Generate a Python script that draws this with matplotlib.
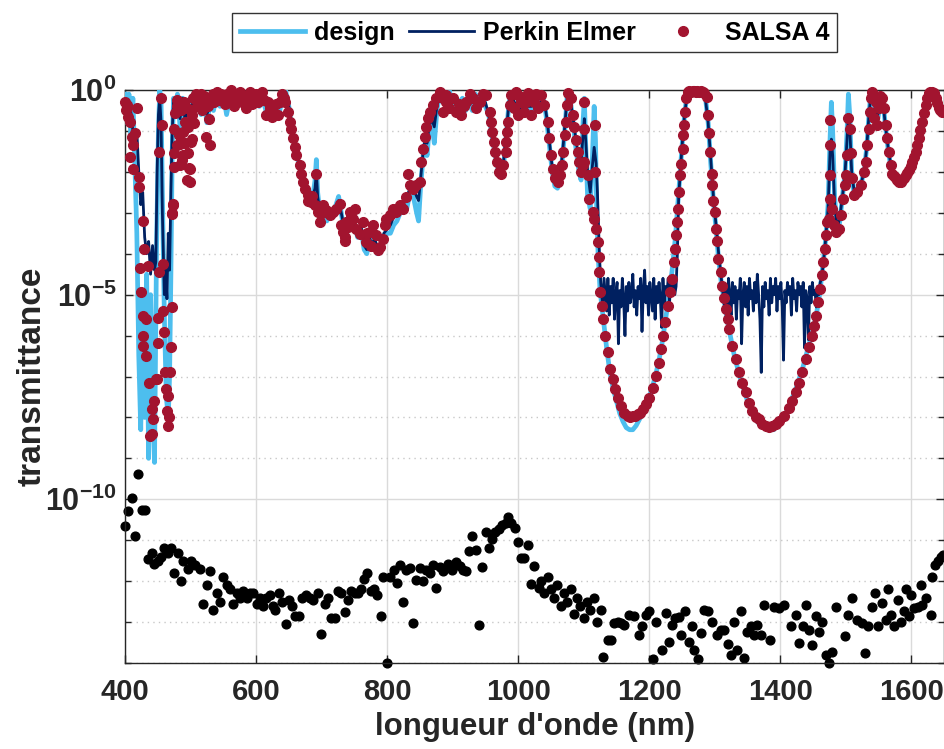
import numpy as np
import matplotlib
matplotlib.use("Agg")
import matplotlib.pyplot as plt

plt.rcParams['font.family'] = ['Liberation Sans', 'DejaVu Sans']
plt.rcParams['font.weight'] = 'bold'
plt.rcParams['mathtext.fontset'] = 'custom'
plt.rcParams['mathtext.rm'] = 'Liberation Sans:bold'
plt.rcParams['mathtext.bf'] = 'Liberation Sans:bold'
plt.rcParams['mathtext.default'] = 'bf'

# ---------------- data (log10 of transmittance) ----------------
design_wl = [400, 403, 406, 409, 412, 415, 418, 421, 424, 427, 430, 433, 436, 439, 442, 445, 448, 451, 453, 455,
             457, 460, 463, 466, 468, 470, 472, 474, 477, 480, 484, 488, 492, 496, 500, 504, 508, 512, 516, 520,
             525, 530, 535, 540, 545, 550, 555, 560, 565, 570, 575, 580, 585, 590, 595, 600, 605, 610, 615, 620,
             625, 630, 635, 640, 645, 650, 655, 660, 665, 670, 675, 680, 685, 690, 692, 694, 698, 703, 708, 713,
             718, 722, 726, 730, 735, 740, 745, 750, 755, 760, 765, 769, 773, 777, 781, 785, 790, 795, 800, 805,
             810, 815, 820, 825, 830, 835, 840, 845, 848, 851, 855, 858, 861, 864, 868, 872, 876, 880, 885, 890,
             895, 900, 905, 910, 915, 920, 925, 930, 935, 940, 945, 950, 955, 960, 965, 970, 974, 978, 982, 986,
             990, 995, 1000, 1005, 1010, 1015, 1020, 1025, 1030, 1035, 1040, 1044, 1048, 1052, 1056, 1060, 1064,
             1068, 1072, 1075, 1080, 1084, 1088, 1092, 1096, 1099, 1101, 1103, 1106, 1110, 1113, 1116, 1118, 1120,
             1122, 1125, 1130, 1135, 1140, 1145, 1150, 1155, 1160, 1165, 1170, 1175, 1180, 1185, 1190, 1195, 1200,
             1205, 1210, 1215, 1220, 1225, 1230, 1235, 1240, 1245, 1250, 1254, 1258, 1265, 1275, 1285, 1290, 1294,
             1298, 1302, 1306, 1310, 1315, 1320, 1325, 1330, 1335, 1340, 1345, 1350, 1355, 1360, 1365, 1370, 1375,
             1380, 1385, 1390, 1395, 1400, 1405, 1410, 1415, 1420, 1425, 1430, 1435, 1440, 1445, 1450, 1455, 1460,
             1465, 1469, 1473, 1476, 1478, 1480, 1483, 1487, 1491, 1495, 1499, 1502, 1504, 1506, 1509, 1513, 1518,
             1523, 1528, 1532, 1535, 1538, 1541, 1545, 1549, 1553, 1556, 1560, 1565, 1570, 1576, 1581, 1586, 1591,
             1596, 1601, 1606, 1611, 1616, 1621, 1626, 1632, 1637, 1642, 1650]
design_lg = [-0.1, -0.8, -0.1, -1.2, -0.2, -1.8, -3.5, -6.5, -8.3, -5.0, -8.0, -4.5, -9.0, -5.0, -7.5, -9.1, -4.0, -1.0, 0.0, -0.3,
             -2.5, -5.5, -7.5, -8.0, -7.0, -4.5, -1.5, -0.2, -0.6, -0.1, -0.9, -0.2, -1.0, -0.3, -0.9, -0.1, -0.5, -0.1, -0.6, -0.2,
             -0.8, -0.3, -0.5, -0.1, -0.4, -0.1, -0.6, -0.2, -0.4, -0.05, -0.3, -0.1, -0.5, -0.1, -0.3, -0.05, -0.4, -0.2, -0.5, -0.3,
             -0.6, -0.3, -0.6, -0.2, 0.0, -0.4, -1.0, -1.4, -1.8, -2.0, -2.4, -2.6, -2.8, -2.2, -1.7, -2.5, -3.1, -2.9, -3.2, -3.0,
             -3.1, -2.8, -2.6, -3.0, -3.5, -3.2, -3.0, -3.3, -3.6, -3.4, -3.9, -4.0, -3.6, -3.9, -3.7, -4.0, -3.95, -3.6, -3.5, -3.5,
             -3.3, -3.2, -3.0, -2.8, -2.9, -2.5, -2.6, -3.0, -3.2, -2.4, -1.6, -1.3, -1.6, -1.0, -0.8, -1.3, -0.5, -0.1, -0.3, -0.1,
             0.0, -0.4, -0.5, -0.3, -0.2, -0.5, -0.3, -0.5, -0.1, -0.3, -0.1, -0.4, -0.6, -1.1, -1.6, -2.0, -2.1, -1.8, -1.1, -0.3,
             -0.1, -0.5, -0.7, -0.3, -0.6, -0.1, -0.6, -0.2, -0.5, -0.1, -0.3, -0.8, -1.4, -2.0, -2.35, -2.4, -2.2,
             -1.6, -0.8, -0.1, -0.3, -0.8, -1.4, -1.9, -2.2, -0.8, -0.2, -1.3, -2.6, -2.9, -1.8, -0.4, -1.2, -3.0,
             -4.0, -4.9, -5.6, -6.3, -6.9, -7.3, -7.6, -7.9, -8.1, -8.25, -8.3, -8.3, -8.2, -8.05, -7.9, -7.7, -7.5,
             -7.25, -6.95, -6.6, -6.15, -5.6, -5.05, -4.4, -3.6, -2.5, -1.4, -0.6, -0.05, 0.0, 0.0, -0.05, -0.8, -1.8,
             -2.7, -3.4, -4.15, -4.7, -5.2, -5.7, -6.1, -6.5, -6.8, -7.1, -7.35, -7.6, -7.8, -8.0, -8.1, -8.2, -8.25,
             -8.3, -8.3, -8.3, -8.2, -8.1, -8.0, -7.85, -7.65, -7.45, -7.25, -7.0, -6.75, -6.45, -6.15, -5.85, -5.5, -5.0,
             -4.3, -3.7, -2.8, -1.2, -0.3, -1.0, -2.6, -3.55, -3.2, -2.6, -2.0, -1.0, -0.1, -0.6, -2.0, -2.6, -2.5,
             -2.3, -2.0, -1.4, -0.7, -0.1, 0.0, -0.5, -0.7, -0.3, -0.1, -0.8, -1.5, -2.0, -2.15, -2.25, -2.2, -2.1,
             -1.95, -1.75, -1.5, -1.2, -0.8, -0.4, -0.1, -0.05, -0.2, -0.45, -0.5]

pe_wl = [400, 404, 408, 412, 415, 418, 421, 424, 427, 430, 433, 436, 439, 442, 445, 447, 449, 451, 453, 455,
         457, 460, 462, 464, 466, 468, 470, 472, 474, 477, 480, 484, 488, 492, 496, 500, 505, 510, 515, 520,
         525, 530, 540, 550, 560, 570, 580, 590, 600, 610, 620, 630, 640, 645, 650, 655, 660, 665, 670, 675,
         680, 685, 690, 692, 694, 698, 703, 708, 713, 718, 722, 726, 730, 735, 740, 745, 750, 755, 760, 765,
         769, 773, 777, 781, 785, 790, 795, 800, 805, 810, 815, 820, 825, 830, 835, 840, 845, 848, 851, 855,
         858, 861, 864, 868, 872, 876, 880, 890, 900, 910, 920, 930, 940, 950, 955, 960, 965, 970, 974, 978,
         982, 986, 990, 1000, 1010, 1020, 1030, 1040, 1044, 1048, 1052, 1056, 1060, 1064, 1068, 1072, 1075, 1080,
         1084, 1088, 1092, 1096, 1099, 1101, 1103, 1106, 1110, 1113, 1116, 1119, 1121, 1124, 1126,
         1127, 1129, 1131, 1133, 1135, 1137, 1139, 1141, 1143, 1145, 1147, 1149, 1151, 1153, 1155, 1157, 1159,
         1161, 1163, 1165, 1167, 1169, 1171, 1173, 1175, 1177, 1179, 1181, 1183, 1185, 1187, 1189, 1191, 1193,
         1195, 1197, 1199, 1201, 1203, 1205, 1207, 1209, 1211, 1213, 1215, 1217, 1219, 1221, 1223, 1225, 1227,
         1229, 1231, 1233, 1235, 1237, 1239, 1241, 1243, 1245, 1250, 1254, 1258, 1270, 1285, 1290, 1294, 1298,
         1302, 1306, 1310, 1313,
         1315, 1317, 1319, 1321, 1323, 1325, 1327, 1329, 1331, 1333, 1335, 1337, 1339, 1341, 1343, 1345, 1347,
         1349, 1351, 1353, 1355, 1357, 1359, 1361, 1363, 1365, 1367, 1369, 1371, 1373, 1375, 1377, 1379, 1381,
         1383, 1385, 1387, 1389, 1391, 1393, 1395, 1397, 1399, 1401, 1403, 1405, 1407, 1409, 1411, 1413, 1415,
         1417, 1419, 1421, 1423, 1425, 1427, 1429, 1431, 1433, 1435, 1437, 1439, 1441, 1443, 1445, 1447, 1449,
         1451, 1453, 1455, 1457, 1459, 1461, 1463, 1466, 1469, 1473, 1476, 1478, 1480, 1483, 1487, 1491, 1495,
         1499, 1502, 1504, 1506, 1509, 1513, 1518, 1523, 1528, 1532, 1535, 1538, 1541, 1545, 1549, 1553, 1556,
         1560, 1565, 1570, 1576, 1581, 1586, 1591, 1596, 1601, 1606, 1611, 1616, 1621, 1626, 1632, 1637, 1642, 1650]
pe_lg = [-0.3, -0.6, -0.4, -1.0, -1.2, -1.0, -2.0, -2.8, -2.5, -3.6, -4.0, -3.7, -4.5, -3.8, -4.4, -4.2, -2.0, -0.6, -0.2, -0.8,
         -3.0, -5.0, -4.4, -5.1, -3.5, -4.4, -2.5, -1.0, -0.3, -0.6, -0.2, -0.7, -0.2, -0.8, -0.3, -0.7, -0.1, -0.4, -0.2, -0.5,
         -0.6, -0.3, -0.15, -0.2, -0.3, -0.1, -0.2, -0.15, -0.1, -0.2, -0.4, -0.4, -0.2, -0.05, -0.4, -0.9, -1.3, -1.7, -2.0, -2.3,
         -2.5, -2.7, -2.4, -2.0, -2.6, -3.0, -2.9, -3.1, -3.0, -3.0, -2.85, -2.7, -3.0, -3.4, -3.1, -3.0, -3.2, -3.5, -3.3, -3.8,
         -3.9, -3.6, -3.8, -3.6, -3.9, -3.8, -3.5, -3.4, -3.3, -3.1, -3.0, -2.85, -2.7, -2.6, -2.4, -2.4, -2.6, -2.7, -2.2, -1.5,
         -1.2, -1.3, -0.9, -0.7, -0.9, -0.4, -0.1, -0.2, -0.3, -0.3, -0.4, -0.3, -0.2, -0.3, -0.6, -1.0, -1.5, -1.9, -2.0, -1.7,
         -1.0, -0.3, -0.15, -0.5, -0.4, -0.4, -0.3, -0.3, -0.7, -1.3, -1.9, -2.2, -2.3, -2.1, -1.5, -0.7, -0.15, -0.3,
         -0.7, -1.2, -1.6, -1.8, -1.1, -0.7, -1.2, -2.0, -2.5, -1.9, -1.4, -1.8, -2.5, -4.0, -4.7,
         -4.9, -5.3, -4.6, -5.0, -5.4, -4.6, -5.5, -4.8, -5.2, -4.6, -5.6, -5.0, -4.7, -6.2, -4.9, -5.3, -4.6,
         -5.1, -6.0, -4.8, -5.4, -4.7, -5.2, -5.0, -4.5, -5.3, -4.9, -5.5, -4.8, -5.1, -4.6, -5.9, -4.9, -4.4,
         -5.2, -4.8, -5.5, -4.7, -5.0, -5.4, -4.6, -5.6, -4.8, -5.2, -4.7, -5.1, -5.8, -4.6, -5.3, -4.8, -5.0,
         -4.6, -5.2, -4.7, -4.9, -4.6, -5.0, -4.8, -4.0, -2.6, -1.4, -0.6, -0.1, 0.0, -0.1, -0.8, -1.7, -2.6,
         -3.3, -4.0, -4.6, -5.0,
         -5.3, -4.8, -5.4, -4.6, -5.0, -5.5, -4.7, -5.2, -4.8, -5.6, -4.9, -5.1, -4.6, -6.2, -5.0, -4.7, -5.3,
         -4.8, -5.5, -4.6, -5.1, -4.9, -5.4, -4.7, -5.2, -4.5, -5.0, -5.6, -6.9, -4.8, -5.3, -4.7, -5.1, -4.9,
         -5.5, -4.6, -5.2, -4.8, -5.0, -4.6, -5.4, -4.8, -5.1, -4.7, -5.3, -6.6, -4.9, -5.2, -4.7, -5.0, -4.8,
         -5.5, -4.6, -5.1, -4.9, -5.4, -4.7, -5.0, -4.8, -5.3, -4.7, -6.3, -4.9, -5.1, -6.1, -4.8, -5.2, -4.7,
         -5.0, -4.9, -5.3, -4.8, -5.0, -4.7, -4.6, -4.2, -3.7, -2.9, -1.5, -1.2, -1.6, -2.8, -3.4, -3.1, -2.6,
         -2.0, -1.2, -0.6, -0.9, -2.0, -2.5, -2.45, -2.3, -2.0, -1.4, -0.7, -0.15, -0.05, -0.45, -0.6, -0.3, -0.15,
         -0.8, -1.45, -1.95, -2.1, -2.2, -2.15, -2.05, -1.9, -1.7, -1.45, -1.15, -0.75, -0.4, -0.1, -0.05, -0.2, -0.45, -0.5]

# SALSA 4 measurement points (wavelength, log10 T), by region
salsa_wl_1 = [400.5, 401.0, 402.6, 405.1, 407.6, 410.2, 412.7, 415.3, 407.6, 411.7, 417.8, 421.9, 421.9, 428.0, 429.5,
              422.9, 424.4, 427.0, 432.0, 427.0, 427.0, 432.0, 435.6, 437.1, 438.1, 440.7, 443.2, 441.7, 444.7, 447.3,
              448.3, 450.8, 450.8, 452.4, 452.4, 455.9, 454.4, 457.4, 458.4, 459.5, 461.0, 462.5, 466.1, 464.5, 467.6,
              466.1, 468.6, 469.6, 471.1, 471.1, 472.7, 474.7, 474.7, 474.7, 478.8, 476.2, 479.8, 473.0, 472.0]
salsa_lg_1 = [-0.3, -0.5, -0.37, -0.65, -0.78, -1.14, -1.35, -1.06, -1.63, -1.92, -0.45, -2.12, -2.37, -3.19, -3.88,
              -4.35, -4.94, -5.51, -5.6, -6.0, -6.25, -6.5, -4.29, -7.15, -8.46, -8.41, -8.05, -7.8, -7.6, -7.07,
              -7.07, -6.17, -5.56, -4.45, -1.51, -0.86, -0.2, -4.25, -5.39, -5.92, -6.9, -7.31, -7.48, -7.84, -8.0,
              -8.21, -6.9, -6.29, -5.31, -3.02, -2.78, -1.88, -1.55, -0.94, -0.25, -0.57, -1.35, -2.8, -3.0]

salsa_wl_2 = [480, 482, 483.8, 483.8, 485, 487, 487.9, 488.9, 490, 491.5, 492, 494, 494, 496, 496.5, 498, 499.1, 499.1,
              500, 500.6, 501.6, 502, 504, 506, 508, 510, 512, 514, 516, 518, 520, 522, 524, 526, 528, 530, 532, 534,
              536, 538, 540, 543, 546, 549, 552, 555, 558, 561, 564, 567, 570, 573, 576, 579, 582, 585, 588, 591, 594,
              597, 600, 603, 606, 609, 612, 615, 618, 621, 624, 627, 630, 633, 636, 639, 642]
salsa_lg_2 = [-0.4, -1.1, -1.31, -1.84, -0.5, -1.7, -1.02, -1.59, -0.3, -0.78, -1.3, -0.45, -2.2, -0.9, -1.55, -1.9, -1.92, -2.25,
              -0.5, -1.27, -0.61, -1.2, -0.2, -0.8, -0.1, -0.4, -0.2, -0.3, -0.1, -0.5, -0.15, -0.3, -1.15, -0.4, -0.7, -1.35, -0.3, -0.1,
              -0.3, -0.2, -0.05, -0.25, -0.1, -0.2, -0.35, -0.1, -0.3, 0.0, -0.2, -0.4, -0.1, -0.25, -0.05, -0.3, -0.15, -0.45, -0.2, -0.05, -0.35,
              -0.2, -0.1, -0.3, -0.15, -0.05, -0.25, -0.6, -0.3, -0.45, -0.65, -0.55, -0.35, -0.6, -0.3, -0.1, -0.2]

salsa_wl_3 = [643.9, 648.9, 651.5, 654.0, 656.6, 659.1, 661.6, 666.7, 669.3, 671.8, 674.3, 679.4, 684.5, 692.1, 689.6, 694.7,
              697.2, 702.3, 707.4, 712.4, 717.5, 722.6, 727.7, 732.8, 735.3, 737.8, 742.9, 748.0, 750.5, 753.1, 758.2,
              763.2, 768.3, 773.4, 775.9, 778.5, 783.6, 788.6, 793.7, 796.3, 798.8, 803.9, 809.0, 814.0, 819.1, 824.2,
              829.3, 831.8, 834.4, 839.4, 844.5, 849.6, 852.1, 854.7, 857.2, 859.8, 862.3, 864.8, 869.9, 875.0, 880.1,
              885.2, 890.2, 730.0, 735.0, 740.0, 786.0, 770.0, 745.0, 700.0, 680.0, 686.0]
salsa_lg_3 = [-0.29, -0.53, -0.78, -0.94, -1.18, -1.39, -1.59, -1.84, -2.04, -2.25, -2.41, -2.57, -2.74, -2.04, -2.82, -2.98,
              -3.23, -2.82, -2.94, -3.06, -2.98, -2.9, -2.78, -3.47, -3.68, -3.23, -2.98, -3.15, -2.9, -3.39, -3.51,
              -3.23, -3.72, -3.47, -3.8, -3.31, -3.55, -3.84, -3.64, -3.31, -3.15, -3.06, -2.9, -2.98, -2.82, -2.9,
              -2.61, -2.04, -2.33, -2.41, -2.33, -2.25, -1.76, -1.43, -1.14, -0.9, -0.69, -0.53, -0.37, -0.2, -0.04,
              -0.2, -0.12, -3.3, -3.6, -3.35, -3.9, -3.5, -3.1, -3.0, -2.7, -2.6]

salsa_wl_4 = [885.0, 890.0, 895.0, 900.0, 905.5, 910.0, 913.0, 917.0, 920.7, 926.0, 931.0, 936.0, 941.0, 946.0, 951.2, 956.3,
              958.8, 960.4, 962.4, 965.4, 967.5, 970.5, 974.1, 977.6, 980.7, 981.7, 982.7, 984.2, 986.8, 989.3, 994.4,
              999.5, 1004.6, 1009.6, 1014.7, 1019.8, 1024.9, 1030.0, 1035.0, 1040.1, 1045.2, 1047.7, 1050.3, 1052.8,
              1056.9, 1060.4, 1064.0, 1067.1, 1069.1, 1071.1, 1073.1, 1074.1, 1075.7, 1080.8, 1083.3, 1085.8, 1088.4,
              1090.9, 1093.5, 1096.0, 1098.5, 1001.0, 1012.0, 1022.0, 997.0, 1027.0]
salsa_lg_4 = [-0.53, -0.3, -0.45, -0.2, -0.53, -0.35, -0.61, -0.4, -0.29, -0.1, -0.2, -0.45, -0.29, -0.1, -0.12, -0.53,
              -0.78, -1.02, -1.27, -1.51, -1.76, -2.0, -2.04, -1.84, -1.51, -1.27, -1.02, -0.78, -0.37, -0.12, -0.45,
              -0.61, -0.29, -0.53, -0.08, -0.61, -0.29, -0.45, -0.12, -0.37, -0.78, -1.18, -1.59, -1.92,
              -2.16, -2.25, -2.08, -1.84, -1.51, -1.1, -0.78, -0.37, -0.08, -0.2, -0.61, -0.9, -1.23,
              -1.51, -1.76, -2.0, -1.84, -0.15, -0.3, -0.2, -0.05, -0.1]

salsa_wl_5 = [1101.0, 1101.0, 1101.0, 1106.0, 1108.6, 1113.7, 1116.3, 1117.8, 1117.3, 1118.8, 1121.3, 1122.9, 1122.9,
              1124.9, 1128.0, 1130.0, 1133.0, 1136.6, 1140.1, 1144.2, 1148.3, 1151.8, 1156.9, 1162.0, 1167.1, 1171.0,
              1174.7, 1178.5, 1182.3, 1186.0, 1189.9, 1195.0, 1200.0, 1205.2, 1210.2, 1214.3, 1217.9, 1221.4, 1224.5,
              1228.0, 1231.6, 1234.6, 1237.2, 1239.2, 1240.7, 1242.2, 1244.3, 1245.8, 1247.3, 1248.3, 1250.9, 1251.9,
              1253.4, 1255.0, 1256.0, 1258.5, 1261.0, 1263.5, 1266.1, 1268.5, 1271.0, 1273.7, 1276.0, 1278.5, 1281.4,
              1284.0, 1287.5, 1289.0, 1290.5, 1292.5, 1295.1, 1296.6, 1298.1, 1300.2, 1301.7, 1303.2, 1305.7, 1309.3,
              1311.8, 1314.4, 1316.9, 1319.5, 1322.0, 1327.1, 1332.2, 1337.2, 1342.3, 1347.4, 1352.5, 1357.6, 1362.6]
salsa_lg_5 = [-0.29, -0.94, -1.76, -2.08, -2.66, -2.98, -3.15, -0.86, -2.0, -3.39, -3.72, -4.08, -4.45,
              -4.94, -5.27, -5.6, -6.0, -6.41, -6.82, -7.07, -7.31, -7.52, -7.72, -7.88, -7.97, -8.0,
              -7.97, -7.97, -7.92, -7.88, -7.8, -7.68, -7.52, -7.27, -6.99, -6.66, -6.33, -6.0, -5.68,
              -5.27, -4.94, -4.62, -4.21, -3.88, -3.55, -3.23, -2.9, -2.49, -2.08, -1.8, -1.43, -1.1,
              -0.86, -0.53, -0.2, -0.04, -0.02, -0.05, -0.02, -0.03, -0.05, -0.02, -0.04, -0.02, -0.05,
              -0.08, -0.16, -0.61, -1.06, -1.51, -2.04, -2.33, -2.7, -2.98, -3.39, -3.68, -4.13, -4.45,
              -4.78, -5.07, -5.35, -5.6, -5.84, -6.25, -6.58, -6.9, -7.15, -7.39, -7.64, -7.84, -8.0]

salsa_wl_6 = [1367.7, 1372.8, 1377.9, 1383.0, 1388.0, 1393.0, 1398.2, 1405.8, 1413.4, 1418.5, 1423.6, 1428.7, 1433.7,
              1438.8, 1443.9, 1448.0, 1451.5, 1455.1, 1458.1, 1460.7, 1463.2, 1465.2, 1467.8, 1470.3, 1471.8, 1474.4,
              1475.4, 1475.4, 1475.9, 1475.9, 1478.4, 1482.0, 1485.6, 1489.6, 1492.2, 1495.7, 1498.8, 1500.8, 1502.3,
              1503.8, 1505.9, 1507.4, 1508.9, 1512.5, 1517.6, 1522.6, 1527.7, 1530.3, 1532.8, 1535.3, 1536.4, 1537.9,
              1540.4, 1543.0, 1545.5, 1548.0, 1550.6, 1553.0, 1555.7, 1558.2, 1560.8, 1563.3, 1565.8, 1568.4, 1570.9,
              1573.5, 1576.0, 1578.5, 1581.1, 1583.6, 1586.1, 1588.7, 1591.2, 1593.8, 1596.3, 1598.9, 1601.4, 1604.0,
              1606.5, 1609.0, 1611.5, 1614.0, 1616.6, 1619.1, 1621.7, 1624.2, 1626.8, 1629.3, 1631.9, 1634.4, 1637.0,
              1639.5, 1642.0, 1644.5, 1647.1, 1649.5]
salsa_lg_6 = [-8.05, -8.15, -8.21, -8.24, -8.21, -8.15, -8.09, -7.97, -7.76, -7.6, -7.39, -7.15, -6.9,
              -6.58, -6.29, -6.0, -5.76, -5.51, -5.19, -4.86, -4.53, -4.21, -3.88, -3.55, -3.23, -3.15,
              -2.66, -2.08, -1.35, -0.74, -2.9, -3.31, -3.47, -3.39, -3.06, -2.66, -2.33, -2.08, -1.59,
              -0.69, -0.94, -1.55, -2.16, -2.57, -2.49, -2.33, -2.0, -1.76, -1.35, -0.94, -0.53, -0.2,
              -0.04, -0.69, -0.3, -0.86, -0.45, -0.15, -0.2, -0.45, -0.86, -1.18, -1.51, -1.84, -2.04,
              -2.1, -2.16, -2.2, -2.25, -2.25, -2.21, -2.15, -2.08, -2.02, -1.96, -1.86, -1.76, -1.64,
              -1.51, -1.35, -1.18, -0.98, -0.78, -0.57, -0.37, -0.2, -0.08, -0.05, -0.04, -0.08, -0.2,
              -0.32, -0.45, -0.5, -0.53, -0.5]

# black points (noise floor, no legend entry)
floor_wl = [400.0, 405.1, 410.2, 415.3, 420.3, 425.4, 430.5, 435.6, 440.7, 444.7, 449.8, 454.9, 460.0, 465.0, 470.1,
            475.2, 480.3, 485.4, 488.9, 495.5, 500.6, 506.7, 514.3, 519.4, 524.5, 529.6, 534.6, 539.7, 544.8, 549.9,
            555.0, 560.0, 565.1, 570.2, 575.3, 580.4, 585.4, 590.5, 595.6, 600.7, 605.8, 610.8, 615.9, 621.0, 626.1,
            629.6, 635.2, 640.3, 645.4, 650.5, 655.5, 659.1, 665.7, 670.8, 675.9, 682.0, 687.0, 694.7, 699.7, 704.8,
            709.9, 715.0, 720.1, 725.1, 730.2, 735.3, 740.4, 745.5, 750.5, 755.6, 760.7, 764.8, 769.8, 774.9, 780.0,
            785.1, 790.2, 794.2, 799.8, 803.9, 810.0, 815.0, 820.0, 824.2, 829.3, 834.4, 839.4, 844.5, 849.6, 854.7,
            859.8, 864.8, 869.9, 875.0, 880.1, 885.2, 892.8, 899.4, 904.5, 910.6, 915.6, 920.7, 924.8, 929.9, 935.0,
            940.0, 945.1, 950.2, 955.3, 960.3, 965.4, 970.5, 975.6, 980.7, 984.7, 989.8, 994.9, 999.5, 1004.5, 1009.6,
            1014.7, 1019.8, 1024.9, 1031.5, 1035, 1040, 1045, 1050, 1055, 1060, 1065, 1070, 1075, 1080, 1085, 1090,
            1095, 1100, 1105, 1110, 1115, 1120, 1126.4, 1129.0, 1136.6, 1141.7, 1146.8, 1151.8, 1156.9, 1162.0,
            1169.6, 1177.2, 1183.8, 1188.9, 1195.0, 1200.0, 1205.2, 1210.3, 1219.4, 1225.5, 1229.6, 1234.6, 1239.7,
            1245.8, 1248.4, 1255.0, 1260.0, 1265.1, 1268.7, 1273.8, 1278.8, 1283.9, 1289.0, 1296.6, 1304.2, 1309.3,
            1314.4, 1319.5, 1324.6, 1329.6, 1334.7, 1339.8, 1344.9, 1350.0, 1355.0, 1360.1, 1365.2, 1370.3, 1375.4,
            1384.0, 1390.6, 1398.2, 1405.8, 1416.0, 1423.6, 1428.7, 1434.8, 1438.9, 1444.0, 1449.0, 1454.1, 1459.2,
            1463.2, 1469.3, 1474.4, 1479.5, 1484.6, 1498.8, 1503.9, 1510, 1517.6, 1525.2, 1529.3, 1534.4, 1539.4,
            1545, 1549.6, 1555.7, 1561.8, 1565, 1568.4, 1573.5, 1580, 1583.6, 1588.7, 1592, 1596.3, 1600, 1603.9,
            1610.6, 1615, 1616.7, 1622, 1629.4, 1632, 1636, 1640, 1645, 1649]
floor_lg = [-10.66, -10.29, -9.97, -10.9, -9.38, -10.25, -10.25, -11.46, -11.3, -11.57, -11.5, -11.4, -11.2, -11.3, -11.2,
            -11.8, -11.3, -12.0, -11.5, -11.7, -11.5, -11.6, -11.7, -12.55, -12.1, -11.75, -12.7, -12.3, -12.5, -11.9,
            -12.1, -12.2, -12.55, -12.3, -12.4, -12.25, -12.4, -12.3, -12.3, -12.55, -12.4, -12.6, -12.4, -12.35, -12.6,
            -12.7, -12.3, -12.5, -13.05, -12.45, -12.6, -12.85, -12.85, -12.4, -12.35, -12.4, -12.45, -12.3, -13.3, -12.55,
            -12.4, -12.9, -12.9, -12.25, -12.3, -12.75, -12.45, -12.25, -12.3, -12.3, -12.2, -11.95, -11.8, -12.25, -12.2,
            -12.35, -12.85, -11.9, -14.0, -11.91, -11.72, -12.05, -11.6, -12.52, -11.72, -11.68, -13.03, -11.97, -11.68, -12.0,
            -11.72, -11.8, -11.6, -12.16, -11.66, -11.76, -11.57, -11.72, -11.52, -11.64, -11.72, -11.76, -11.27, -10.9, -11.23,
            -13.07, -11.65, -10.8, -11.2, -10.96, -10.8, -10.73, -10.63, -10.57, -10.44, -10.58, -10.69, -11.05, -11.43, -11.43,
            -11.12, -12.08, -11.64, -12.17, -12.0, -12.3, -11.9, -12.2, -12.4, -12.1, -12.6, -12.3, -12.5, -12.2, -12.8, -12.4,
            -12.6, -12.9, -12.5, -12.7, -12.4, -13.0, -12.7, -13.85, -13.43, -13.43, -13.03, -12.99, -13.03, -13.07,
            -12.82, -12.85, -13.31, -13.1, -12.82, -12.74, -13.89, -12.99, -13.68, -12.79, -13.48, -13.07, -12.9,
            -12.87, -13.31, -12.74, -13.48, -13.1, -13.68, -13.89, -13.27, -12.7, -12.74, -12.99, -13.31, -13.19,
            -13.19, -13.54, -13.8, -12.99, -13.68, -12.74, -13.87, -13.23, -13.1, -13.31, -13.07, -13.31, -12.58,
            -13.43, -12.62, -12.66, -12.58, -13.1, -12.82, -13.52, -13.1, -12.58, -13.19, -13.56, -12.85, -13.23,
            -12.99, -13.8, -14.0, -13.72, -12.62, -13.35, -12.82, -12.4, -12.95, -13.03, -13.76, -13.1, -12.62,
            -12.3, -13.1, -12.54, -12.95, -12.2, -12.82, -13.1, -12.45, -12.99, -12.74, -12.2, -12.85, -12.35, -12.66,
            -12.62, -12.1, -12.58, -12.4, -12.82, -11.9, -11.6, -11.5, -11.4, -11.35]

# ---------------- plotting ----------------
C_DESIGN = '#4DBEEE'
C_PE = '#002060'
C_SALSA = '#A2142F'
TXT = '#262626'

fig = plt.figure(figsize=(9.45, 7.49), dpi=100)
ax = fig.add_axes([0.1323, 0.1148, 0.8667, 0.765])

salsa_wl = salsa_wl_1 + salsa_wl_2 + salsa_wl_3 + salsa_wl_4 + salsa_wl_5 + salsa_wl_6
salsa_lg = salsa_lg_1 + salsa_lg_2 + salsa_lg_3 + salsa_lg_4 + salsa_lg_5 + salsa_lg_6

ax.plot(floor_wl, 10.0 ** np.array(floor_lg), 'o', color='black', markersize=6.3,
        clip_on=False, zorder=2)
ax.plot(design_wl, 10.0 ** np.array(design_lg), '-', color=C_DESIGN, lw=3.4, label='design', zorder=3)
ax.plot(pe_wl, 10.0 ** np.array(pe_lg), '-', color=C_PE, lw=2.0, label='Perkin Elmer', zorder=4)
ax.plot(salsa_wl, 10.0 ** np.array(salsa_lg), 'o', color=C_SALSA, markersize=7.0, label='SALSA 4',
        clip_on=False, zorder=5)

ax.set_yscale('log')
ax.set_xlim(400, 1650)
ax.set_ylim(1e-14, 1)

ax.set_xticks([400, 600, 800, 1000, 1200, 1400, 1600])
ax.set_xticklabels(['400', '600', '800', '1000', '1200', '1400', '1600'])
ax.set_yticks([1e-10, 1e-5, 1e0])
ax.set_yticklabels([r'$10^{-10}$', r'$10^{-5}$', r'$10^{0}$'])
ax.set_yticks([10.0 ** k for k in range(-14, 1) if k % 5 != 0], minor=True)
ax.set_yticklabels([], minor=True)
ax.xaxis.set_minor_locator(matplotlib.ticker.NullLocator())

ax.tick_params(axis='both', which='both', direction='in', top=True, right=True,
               colors=TXT, width=1.0)
ax.tick_params(axis='x', which='major', labelsize=21, length=6, pad=11)
ax.tick_params(axis='y', which='major', labelsize=22, length=6, pad=6)
ax.tick_params(axis='both', which='minor', length=4)
for lab in ax.get_xticklabels() + ax.get_yticklabels():
    lab.set_fontweight('bold')
    lab.set_color(TXT)

ax.grid(True, which='major', color='#DADADA', lw=1.0, ls='-')
ax.grid(True, which='minor', axis='y', color='#C8C8C8', lw=1.0, ls=(0, (1, 3)))
ax.set_axisbelow(True)
for s in ax.spines.values():
    s.set_color(TXT)
    s.set_linewidth(1.0)

ax.set_xlabel("longueur d'onde (nm)", fontsize=22.5, fontweight='bold', color=TXT, labelpad=4)
ax.set_ylabel('transmittance', fontsize=24, fontweight='bold', color=TXT, labelpad=-2)

leg = fig.legend(loc='center', bbox_to_anchor=(0.5656, 0.9566), ncol=3, fontsize=18,
                 frameon=True, fancybox=False, edgecolor='black', handlelength=2.6,
                 columnspacing=0.6, handletextpad=0.35, borderpad=0.3, borderaxespad=0.0)
leg.get_frame().set_linewidth(1.0)
for t in leg.get_texts():
    t.set_fontweight('bold')

fig.savefig('out.png', dpi=100)
